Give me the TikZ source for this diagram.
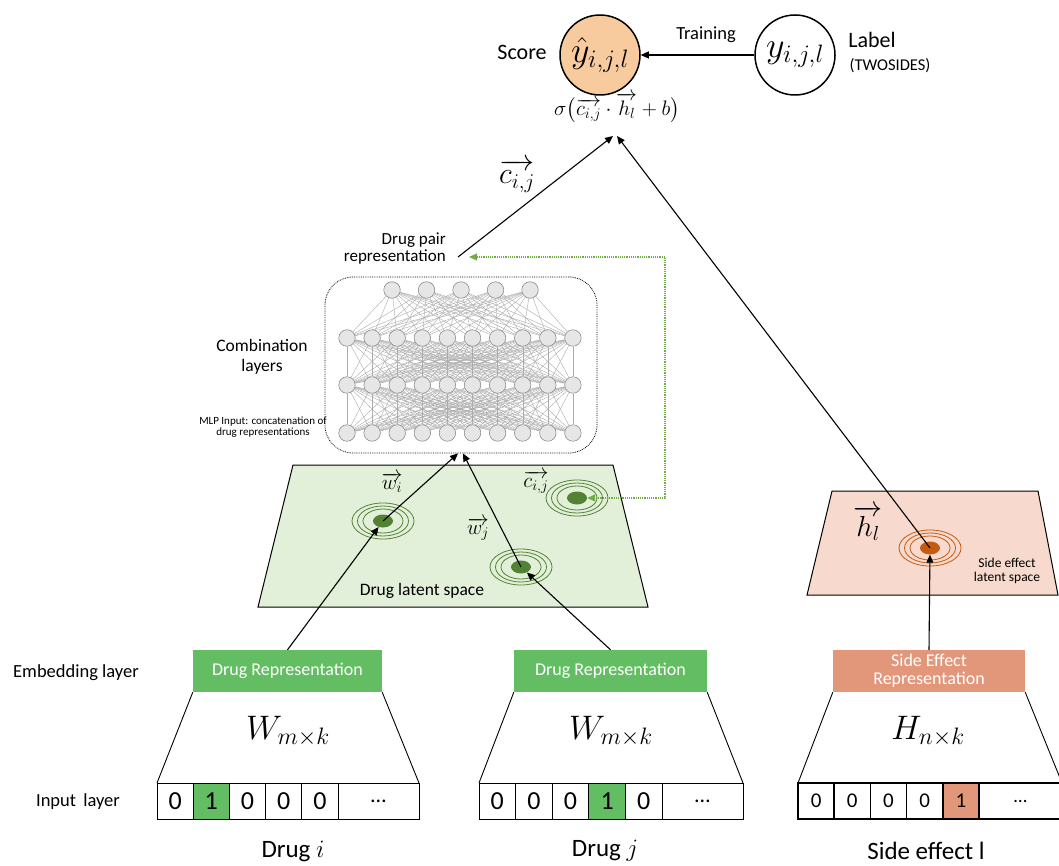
\RequirePackage{fix-cm}
\documentclass[tikz,border=0pt]{standalone}
\usepackage{amsmath}
\usepackage{fontspec}
\setmainfont{Carlito}
\usetikzlibrary{arrows.meta,shapes.geometric}

\definecolor{scoreFill}{HTML}{F7CB9E}
\definecolor{repGreen}{HTML}{63BE63}
\definecolor{latentGreen}{HTML}{E2F0D9}
\definecolor{dotGreen}{HTML}{548235}
\definecolor{linkGreen}{HTML}{70AD47}
\definecolor{seBox}{HTML}{E2977A}
\definecolor{seLatent}{HTML}{F7DACD}
\definecolor{seDot}{HTML}{C55A11}
\definecolor{nnFill}{HTML}{E7E6E6}
\definecolor{nnDraw}{HTML}{8C8C8C}
\definecolor{nnEdge}{HTML}{ABABAB}

\pgfdeclarelayer{bg}
\pgfsetlayers{bg,main}

% concentric rings around a filled latent point
\newcommand\latentdot[3]{%
  \foreach \rx/\ry in {31/18,25.5/15,20/12}
    \draw[#3, line width=0.8pt] (#2) ellipse [x radius=\rx pt, y radius=\ry pt];
  \node[ellipse, fill=#3, minimum width=20pt, minimum height=13pt, inner sep=0pt] (#1) at (#2) {};}

\newcommand\fs[1]{\fontsize{#1}{#1}\selectfont}

\begin{document}
\begin{tikzpicture}[x=1pt,y=-1pt,
  arr/.style={-{Triangle[length=8pt,width=7pt]}, line width=1.1pt},
  rep/.style={text=white, minimum height=42pt, inner sep=0pt, font=\fs{18}, align=center},
  cell/.style={draw, line width=1pt, minimum height=36pt, inner sep=0pt, outer sep=0pt},
  nn/.style={circle, fill=nnFill, draw=nnDraw, line width=0.6pt, minimum size=16.5pt, inner sep=0pt},
  nnlink/.style={nnEdge, line width=0.4pt},
  bigcirc/.style={circle, draw, line width=1.5pt, minimum size=80pt, inner sep=0pt},
  lbl/.style={inner sep=0pt}]
\useasboundingbox (0,0) rectangle (1059,866);

% ---------- output ----------
\node[bigcirc, fill=scoreFill, font=\fs{36}] (score) at (600,55) {$\hat{y}_{i,j,l}$};
\node[bigcirc, font=\fs{36}] (label) at (795,55) {$y_{i,j,l}$};
\node[lbl, font=\fs{22}] (scoretxt) at (522,52) {Score};
\node[lbl, font=\fs{22}] (labeltxt) at (872,40) {Label};
\node[lbl, font=\fs{16.5}] (twosides) at (890,66) {(TWOSIDES)};
\node[lbl, font=\fs{18.5}] (training) at (706,35) {Training};
\draw[arr] (label) -- (score);
\node[lbl, font=\fs{21}] (sigma) at (617,108) {$\sigma\bigl(\overrightarrow{c_{i,j}}\cdot\overrightarrow{h_l}+b\bigr)$};
\coordinate (sig) at (615,136);

% ---------- combination layers ----------
\node[draw, densely dotted, line width=0.8pt, rounded corners=28pt,
      minimum width=272pt, minimum height=176pt] (mlp) at (461,365) {};
\foreach \k in {1,...,5}
  \node[nn] (t\k) at ({392+34.5*(\k-1)},290) {};
\foreach \r/\y in {2/338,3/385,4/433}
  \foreach \k in {1,...,10}
    \node[nn] (l\r-\k) at ({347+25.1*(\k-1)},\y) {};
\begin{pgfonlayer}{bg}
  \foreach \a in {1,...,5}
    \foreach \b in {1,...,10}
      \draw[nnlink] (t\a) -- (l2-\b);
  \foreach \a in {1,...,10}
    \foreach \b in {1,...,10}
      {\draw[nnlink] (l2-\a) -- (l3-\b);
       \draw[nnlink] (l3-\a) -- (l4-\b);}
\end{pgfonlayer}
\node[lbl, font=\fs{17.5}, align=center] (comb) at (262,357) {Combination\\[3pt]layers};
\node[lbl, font=\fs{11}, align=center] (mlpin) at (263,427) {MLP Input: concatenation of\\drug representations};
\node[lbl, font=\fs{17}, align=right, anchor=east] (pair) at (446,249) {Drug pair\\representation};
\coordinate (cfrom) at (458,257);
\coordinate (pairin) at (469,257);
\node[lbl, font=\fs{30}] (cbig) at (517,176) {$\overrightarrow{c_{i,j}}$};
\draw[arr] (cfrom) -- ([xshift=-2pt]sig);

% ---------- drug latent space ----------
\draw[fill=latentGreen, line width=1pt] (293,465) -- (613,465) -- (648,607) -- (258,607) -- cycle;
\latentdot{wi}{383,521}{dotGreen}
\latentdot{wj}{521,567}{dotGreen}
\latentdot{ci}{577,498}{dotGreen}
\node[lbl, font=\fs{21}] (wilbl) at (392,483) {$\overrightarrow{w_i}$};
\node[lbl, font=\fs{21}] (wjlbl) at (478,529) {$\overrightarrow{w_j}$};
\node[lbl, font=\fs{21}] (cilbl) at (536,482) {$\overrightarrow{c_{i,j}}$};
\node[lbl, font=\fs{17.5}] (dls) at (422,591) {Drug latent space};
\draw[linkGreen, densely dotted, line width=1.2pt, {Triangle[length=8pt,width=7pt]}-{Triangle[length=8pt,width=7pt]}]
  (pairin) -- (665,257) |- (ci.east);

% ---------- side effect latent space ----------
\draw[fill=seLatent, line width=1pt] (832,491) -- (1038,491) -- (1058,595) -- (807,595) -- cycle;
\latentdot{hl}{930,548}{seDot}
\node[lbl, font=\fs{29}] (hlbl) at (868,523) {$\overrightarrow{h_l}$};
\node[lbl, font=\fs{13.5}, align=center] (sels) at (1007,571) {Side effect\\latent space};

% ---------- embedding layer ----------
\node[rep, fill=repGreen, minimum width=189pt] (rep1) at (287.5,671) {Drug Representation};
\node[rep, fill=repGreen, minimum width=193pt] (rep2) at (610.5,671) {Drug Representation};
\node[rep, fill=seBox, minimum width=192pt] (rep3) at (929,671) {Side Effect\\Representation};
\node[lbl, font=\fs{18.5}] (emb) at (76,673) {Embedding layer};
\node[lbl, font=\fs{18.5}] (inp) at (78,802) {Input\hspace{3pt} layer};

% ---------- one-hot inputs ----------
\foreach \v/\f [count=\k] in {0/white,1/repGreen,0/white,0/white,0/white}
  \node[cell, fill=\f, minimum width=36.2pt, font=\fs{26}] (a\k) at ({157+36.2*(\k-0.5)},801) {\v};
\node[cell, minimum width=81pt, font=\fs{22}] (a6) at (378.5,801) {\dots};
\foreach \v/\f [count=\k] in {0/white,0/white,0/white,1/repGreen,0/white}
  \node[cell, fill=\f, minimum width=36.6pt, font=\fs{26}] (b\k) at ({479+36.6*(\k-0.5)},801) {\v};
\node[cell, minimum width=81pt, font=\fs{22}] (b6) at (702.5,801) {\dots};
\foreach \v/\f [count=\k] in {0/white,0/white,0/white,0/white,1/seBox}
  \node[cell, line width=1.6pt, fill=\f, minimum width=36.2pt, font=\fs{21}] (s\k) at ({798+36.2*(\k-0.5)},801) {\v};
\node[cell, line width=1.6pt, minimum width=83pt, font=\fs{19}] (s6) at (1020.5,801) {\dots};

\draw[line width=0.9pt] (rep1.south west) -- (a1.north west) (rep1.south east) -- (a6.north east);
\draw[line width=0.9pt] (rep2.south west) -- (b1.north west) (rep2.south east) -- (b6.north east);
\draw[line width=0.9pt] (rep3.south west) -- (s1.north west) (rep3.south east) -- (s6.north east);
\node[lbl, font=\fs{34}] (W1) at (288,731) {$W_{m\times k}$};
\node[lbl, font=\fs{34}] (W2) at (611,731) {$W_{m\times k}$};
\node[lbl, font=\fs{34}] (H3) at (928,731) {$H_{n\times k}$};
\node[lbl, font=\fs{25}] (di) at (293,851) {Drug $i$};
\node[lbl, font=\fs{25}] (dj) at (605,851) {Drug $j$};
\node[lbl, font=\fs{25}] (sel) at (926,851) {Side effect $\mathrm{l}$};

% ---------- connectors ----------
\draw[arr] (rep1.north) -- (wi);
\draw[arr] (wi.center) -- ([xshift=-3pt]mlp.south);
\draw[arr] (rep2.north) -- (wj);
\draw[arr] (wj.center) -- ([xshift=2pt]mlp.south);
\draw[arr] (rep3.north) -- (hl);
\draw[arr] (hl.center) -- ([xshift=2pt]sig);
\end{tikzpicture}
\end{document}
